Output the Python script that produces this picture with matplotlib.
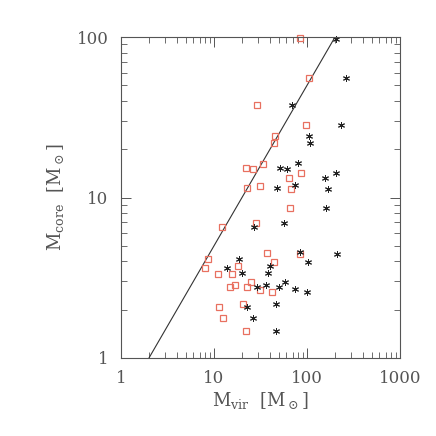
import numpy as np
import matplotlib.pyplot as plt

plt.rcParams['font.family'] = 'DejaVu Serif'
plt.rcParams['mathtext.fontset'] = 'dejavuserif'

# red squares: (M_vir, M_core)
red_x = [84, 105, 28.8, 97, 45, 44, 33.4, 22.1, 26.3, 63.5, 85.5, 22.6, 31.2, 68,
         65.7, 28.1, 12.2, 37.1, 84, 8.6, 44.2, 8.0, 11.0, 15.6, 18.0, 24.8, 14.7,
         16.8, 22.6, 31.2, 42.0, 11.3, 20.3, 12.5, 22.1]
red_y = [99, 55.3, 37.9, 28.2, 24.2, 21.9, 16.2, 15.3, 15.0, 13.3, 14.3, 11.5, 11.8, 11.3,
         8.6, 6.93, 6.52, 4.53, 4.47, 4.16, 3.96, 3.65, 3.35, 3.35, 3.74, 2.96, 2.77,
         2.85, 2.77, 2.66, 2.57, 2.08, 2.17, 1.78, 1.48]

# black asterisks
blk_x = [205, 261, 69, 234, 104, 108, 51.6, 61.4, 79.4, 156, 205, 47.2, 74.3, 167,
         159, 57, 26.9, 84.7, 208, 18.7, 101.7, 13.7, 39.7, 20.2, 37.8, 57.6, 29.2,
         35.9, 50.4, 74.3, 100, 22.5, 46.1, 26.3, 46.4]
blk_y = [97.2, 55.3, 37.9, 28.2, 24.2, 21.9, 15.3, 15.0, 16.3, 13.3, 14.3, 11.5, 11.9, 11.3,
         8.6, 6.93, 6.52, 4.55, 4.47, 4.16, 3.96, 3.65, 3.76, 3.37, 3.37, 2.98, 2.76,
         2.86, 2.77, 2.68, 2.57, 2.08, 2.17, 1.78, 1.48]

# M_core = M_vir / 2
line_x = np.array([2.0, 200.0])
line_y = line_x / 2

grey = '#555555'

fig = plt.figure(figsize=(4.36, 4.36), dpi=100)
ax = fig.add_axes([0.2775, 0.179, 0.64, 0.736])

ax.plot(line_x, line_y, color='#333333', lw=0.8)
ax.plot(red_x, red_y, marker='s', color='#e87060', mfc='none', mec='#e87060',
        ms=4.6, mew=0.9, ls='none', clip_on=False)
ax.plot(blk_x, blk_y, marker=(6, 2, 0), color='#222222', ms=5, mew=0.7, ls='none',
        clip_on=False)

ax.set_xscale('log')
ax.set_yscale('log')
ax.set_xlim(1, 1000)
ax.set_ylim(1, 100)
ax.set_xticks([1, 10, 100, 1000])
ax.set_xticklabels(['1', '10', '100', '1000'])
ax.set_yticks([1, 10, 100])
ax.set_yticklabels(['1', '10', '100'])

for s in ax.spines.values():
    s.set_color(grey)
    s.set_linewidth(0.8)
ax.tick_params(which='both', direction='in', top=True, right=True, color=grey,
               labelcolor=grey, labelsize=12)
ax.tick_params(which='major', length=7, width=0.7, pad=9)
ax.tick_params(which='minor', length=4, width=0.6)

ax.set_xlabel(r'M$_{\rm vir}$  [M$_\odot$]', color=grey, fontsize=13, labelpad=2)
ax.set_ylabel(r'M$_{\rm core}$  [M$_\odot$]', color=grey, fontsize=13, labelpad=8)

fig.savefig('out.png', dpi=100)
